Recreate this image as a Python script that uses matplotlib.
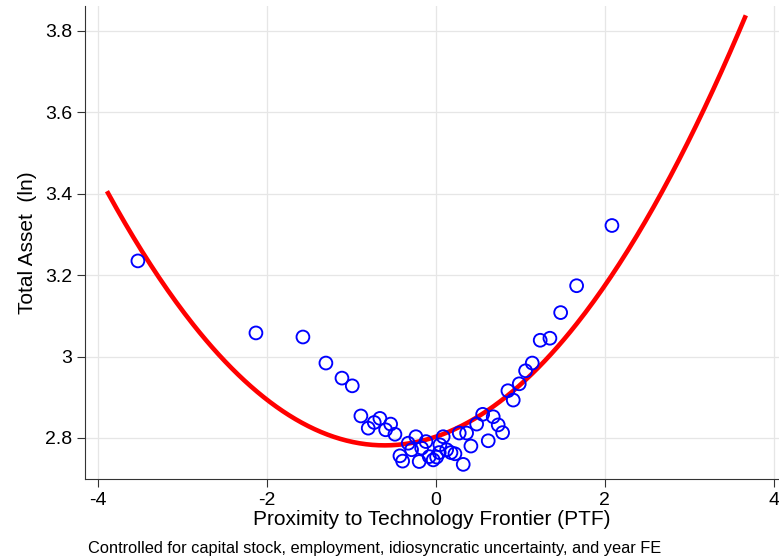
import numpy as np
import matplotlib
matplotlib.use("Agg")
import matplotlib.pyplot as plt

plt.rcParams['font.family'] = ['Liberation Sans', 'DejaVu Sans']

# binned scatter points (PTF, log total asset)
ptf = [-3.527, -2.130, -1.574, -1.302, -1.112, -0.990, -0.888, -0.801, -0.730, -0.663,
       -0.595, -0.536, -0.485, -0.426, -0.394, -0.328, -0.288, -0.237, -0.198, -0.169,
       -0.118, -0.079, -0.032, 0.008, 0.047, 0.039, 0.086, 0.127, 0.178, 0.225,
       0.276, 0.323, 0.363, 0.414, 0.482, 0.553, 0.619, 0.678, 0.737, 0.789,
       0.852, 0.915, 0.986, 1.061, 1.140, 1.234, 1.349, 1.476, 1.665, 2.083]
asset = [3.235, 3.058, 3.048, 2.984, 2.947, 2.928, 2.854, 2.824, 2.838, 2.848,
         2.820, 2.834, 2.809, 2.756, 2.743, 2.787, 2.771, 2.803, 2.742, 2.775,
         2.791, 2.754, 2.746, 2.753, 2.783, 2.764, 2.803, 2.771, 2.764, 2.761,
         2.812, 2.735, 2.812, 2.780, 2.834, 2.858, 2.793, 2.852, 2.832, 2.813,
         2.916, 2.893, 2.933, 2.965, 2.984, 3.040, 3.045, 3.108, 3.174, 3.322]

# quadratic fit line: y = a*x^2 + b*x + c, drawn over its x range
fit_coef = [0.05784, 0.0702, 2.803]
fit_range = [-3.88, 3.657]

xticks = [-4, -2, 0, 2, 4]
yticks = [2.8, 3.0, 3.2, 3.4, 3.6, 3.8]
ytick_labels = ['2.8', '3', '3.2', '3.4', '3.6', '3.8']

fig = plt.figure(figsize=(7.79, 5.6), dpi=100)
ax = fig.add_axes([0.109, 0.1446, 0.891, 0.8444])

xs = np.linspace(fit_range[0], fit_range[1], 300)
ax.plot(xs, np.polyval(fit_coef, xs), color='red', lw=3.3, zorder=2)
ax.scatter(ptf, asset, s=85, facecolors='none', edgecolors='blue',
           linewidths=1.35, zorder=3)

ax.set_xlim(-4.154, 4.06)
ax.set_ylim(2.699, 3.861)
ax.set_xticks(xticks)
ax.set_xticklabels([str(t) for t in xticks])
ax.set_yticks(yticks)
ax.set_yticklabels(ytick_labels)
ax.grid(True, color='#e6e6e6', lw=0.9)
ax.set_axisbelow(True)
for s in ['top', 'right']:
    ax.spines[s].set_visible(False)
for s in ['left', 'bottom']:
    ax.spines[s].set_color('#333333')
ax.tick_params(labelsize=14, length=6, color='#333333', pad=3)

ax.set_xlabel('Proximity to Technology Frontier (PTF)', fontsize=15, labelpad=1)
ax.set_ylabel('Total Asset  (ln)', fontsize=15, labelpad=6)
fig.text(0.113, 0.012, 'Controlled for capital stock, employment, idiosyncratic uncertainty, and year FE',
         fontsize=11.8)

fig.savefig('out.png', dpi=100)
